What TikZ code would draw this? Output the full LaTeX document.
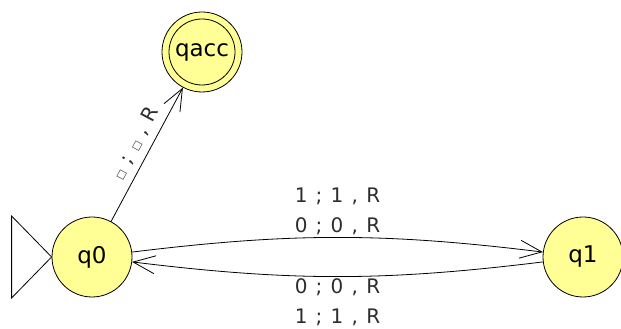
\documentclass[tikz,border=0pt]{standalone}
\usepackage{fontspec}
\setmainfont{DejaVu Sans}
\newfontfamily\edgefont[WordSpace=1.3]{DejaVu Sans}
\usetikzlibrary{arrows.meta}
\definecolor{statefill}{RGB}{255,255,150}
\definecolor{labelgray}{RGB}{45,45,45}
\newcommand{\blanksym}{{\fontsize{10}{10}\selectfont □}}

\begin{document}
\begin{tikzpicture}[x=1pt, y=1pt,
        state/.style={circle, draw, line width=0.8pt, fill=statefill, minimum size=80pt, inner sep=0pt, font=\fontsize{23}{23}\selectfont},
        trans/.style={->, line width=0.8pt},
        lbl/.style={font=\edgefont\fontsize{20}{30}\selectfont, text=labelgray, align=center, inner sep=2pt},
        >={Straight Barb[length=22pt, width=18pt]}]
        \useasboundingbox (0,0) rectangle (621,329);
        \node[state] (q0) at (92,72) {q0};
        \node[state] (q1) at (583,72) {q1};
        \node[state] (qacc) at (202,277) {qacc};
        \draw[line width=0.8pt] (qacc) circle (33pt);
        \draw[line width=0.8pt] (q0.west) -- ++(-40,41) -- ++(0,-82) -- cycle;
        \draw[trans] (q0) to[bend left=7] node[lbl, above] (l01) {1 ; 1 , R\\0 ; 0 , R} (q1);
        \draw[trans] (q1) to[bend left=7] node[lbl, below] (l10) {0 ; 0 , R\\1 ; 1 , R} (q0);
        \draw[trans] (q0) -- node[lbl, sloped, above, pos=0.53, yshift=5pt] (lacc) {\blanksym{} ; \blanksym{} , R} (qacc);
    \end{tikzpicture}
\end{document}
